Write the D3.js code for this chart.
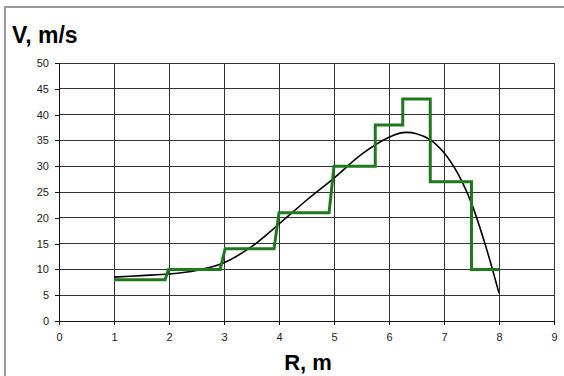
<!DOCTYPE html>
<html>
<head>
<meta charset="utf-8">
<script src="https://cdn.jsdelivr.net/npm/d3@7"></script>
<style>
  body { margin: 0; background: #fff; }
  svg { display: block; font-family: "Liberation Sans", Arial, sans-serif; }
</style>
</head>
<body>
<svg id="chart" width="564" height="376"></svg>
<script>
// stepped measured speed (green)
const stepR = [1, 1.93, 1.99, 2.93, 3.02, 3.91, 4.0, 4.91, 5.0, 5.75, 5.75, 6.25, 6.25, 6.75, 6.75, 7.5, 7.5, 8];
const stepV = [8, 8, 10, 10, 14, 14, 21, 21, 30, 30, 38, 38, 43, 43, 27, 27, 10, 10];

// fitted curve (black)
const curveR = [1, 1.5, 2, 2.5, 3, 3.5, 4, 4.5, 5, 5.5, 6, 6.25, 6.5, 6.75, 7, 7.25, 7.5, 7.75, 8];
const curveV = [8.5, 8.8, 9.1, 9.8, 11.3, 14.4, 18.8, 23.4, 27.7, 32.3, 35.6, 36.5, 36.3, 35.1, 32.6, 28.6, 22.8, 14.8, 5.4];

const xTicks = [0, 1, 2, 3, 4, 5, 6, 7, 8, 9];
const yTicks = [0, 5, 10, 15, 20, 25, 30, 35, 40, 45, 50];

const svg = d3.select('#chart');
const plotLeft = 59, plotRight = 554, plotTop = 63, plotBottom = 321;

// outer frame
svg.append('rect')
  .attr('x', 5).attr('y', 7)
  .attr('width', 600).attr('height', 400)
  .attr('fill', 'none')
  .attr('stroke', '#9a9a9a')
  .attr('stroke-width', 2);

const x = d3.scaleLinear().domain([0, 9]).range([plotLeft, plotRight]);
const y = d3.scaleLinear().domain([0, 50]).range([plotBottom, plotTop]);

// grid
svg.append('g')
  .selectAll('line')
  .data(yTicks)
  .enter()
  .append('line')
  .attr('x1', plotLeft).attr('x2', plotRight)
  .attr('y1', d => y(d)).attr('y2', d => y(d))
  .attr('stroke', '#333')
  .attr('stroke-width', 1)
  .attr('shape-rendering', 'crispEdges');

svg.append('g')
  .selectAll('line')
  .data(xTicks)
  .enter()
  .append('line')
  .attr('x1', d => x(d)).attr('x2', d => x(d))
  .attr('y1', plotTop).attr('y2', plotBottom)
  .attr('stroke', '#333')
  .attr('stroke-width', 1)
  .attr('shape-rendering', 'crispEdges');

// axes
const xAxis = svg.append('g')
  .attr('transform', `translate(0,${plotBottom})`)
  .call(d3.axisBottom(x).tickValues(xTicks).tickSize(4).tickPadding(8).tickSizeOuter(0));
const yAxis = svg.append('g')
  .attr('transform', `translate(${plotLeft},0)`)
  .call(d3.axisLeft(y).tickValues(yTicks).tickSize(4).tickPadding(6).tickSizeOuter(0));

[xAxis, yAxis].forEach(a => {
  a.select('.domain').attr('stroke', '#111').attr('shape-rendering', 'crispEdges');
  a.selectAll('.tick line').attr('stroke', '#111').attr('shape-rendering', 'crispEdges');
  a.selectAll('text')
    .attr('font-family', '"Liberation Sans", Arial, sans-serif')
    .attr('font-size', 11)
    .attr('fill', '#222');
});

// curve
const curvePts = curveR.map((r, i) => [r, curveV[i]]);
svg.append('path')
  .datum(curvePts)
  .attr('fill', 'none')
  .attr('stroke', '#000')
  .attr('stroke-width', 1.6)
  .attr('d', d3.line().x(d => x(d[0])).y(d => y(d[1])).curve(d3.curveCatmullRom));

// steps
const stepPts = stepR.map((r, i) => [r, stepV[i]]);
svg.append('path')
  .datum(stepPts)
  .attr('fill', 'none')
  .attr('stroke', '#1f7a1f')
  .attr('stroke-width', 3)
  .attr('stroke-linejoin', 'miter')
  .attr('d', d3.line().x(d => x(d[0])).y(d => y(d[1])));

// titles
svg.append('text')
  .attr('x', 12).attr('y', 43)
  .attr('font-size', 23).attr('font-weight', 'bold')
  .attr('fill', '#000')
  .text('V, m/s');

svg.append('text')
  .attr('x', 308).attr('y', 370)
  .attr('text-anchor', 'middle')
  .attr('font-size', 22).attr('font-weight', 'bold')
  .attr('fill', '#000')
  .text('R, m');
</script>
</body>
</html>
